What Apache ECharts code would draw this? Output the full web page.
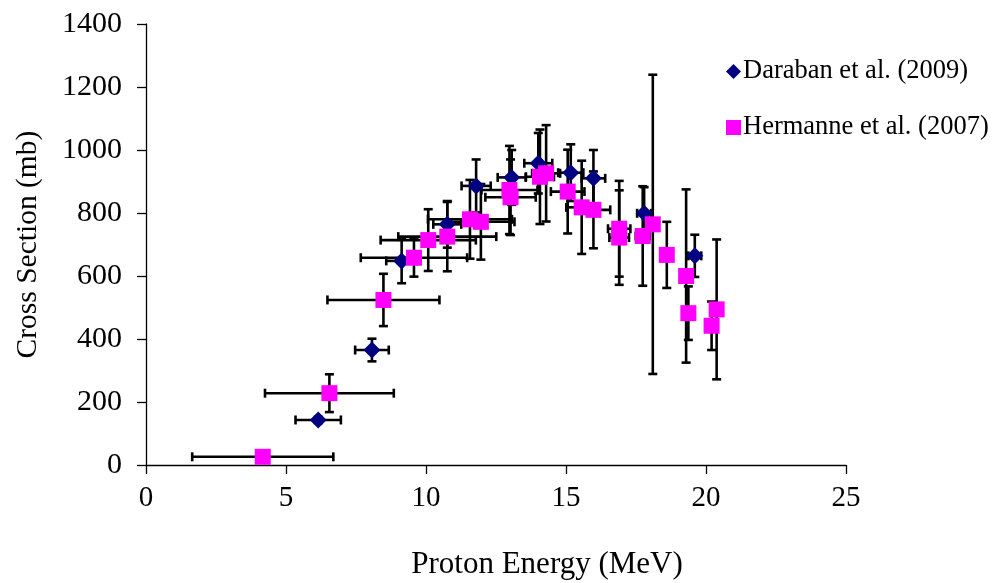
<!DOCTYPE html>
<html><head><meta charset="utf-8">
<script src="https://cdn.jsdelivr.net/npm/echarts@6/dist/echarts.min.js"></script>
<style>html,body{margin:0;padding:0;background:#fff}#c{width:997px;height:583px}</style>
</head><body><div id="c"></div>
<script>
// Daraban et al. (2009)
const darX    = [6.15, 8.07, 9.13, 10.76, 11.79, 13.06, 14.01, 15.17, 15.98, 17.79, 19.6];
const darY    = [143, 365, 648, 764, 886, 913, 958, 928, 910, 799, 664];
const darXErr = [0.81, 0.6, 0.55, 0.5, 0.52, 0.5, 0.5, 0.45, 0.42, 0.25, 0.23];
const darYErr = [10, 36, 71, 74, 84, 87, 96, 90, 90, 83, 67];
// Hermanne et al. (2007)
const herX    = [4.17, 6.55, 8.48, 9.57, 10.08, 10.76, 11.57, 11.96, 12.98, 13.02, 14.07, 14.29, 15.06, 15.56, 15.98, 16.9, 16.9, 17.74, 18.1, 18.6, 19.29, 19.37, 20.2, 20.38];
const herY    = [26, 228, 524, 658, 714, 725, 780, 772, 873, 850, 915, 926, 868, 818, 810, 750, 722, 727, 764, 667, 600, 482, 442, 494];
const herXErr = [2.52, 2.3, 2.0, 1.9, 1.7, 1.75, 1.5, 1.2, 1.0, 0.9, 0.5, 0.5, 0.6, 0.55, 0.6, 0.4, 0.35, 0.25, 0.15, 0.2, 0.15, 0.2, 0.1, 0.1];
const herYErr = [0, 60, 83, 60, 98, 110, 125, 120, 140, 120, 150, 153, 133, 148, 122, 152, 150, 158, 475, 105, 275, 85, 77, 222];
const seriesNames = ['Daraban et al. (2009)', 'Hermanne et al. (2007)'];

const FONT = '"Liberation Serif","Times New Roman",serif';

function errData(xs, ys, xe, ye){
  return xs.map((x,i)=>[x, ys[i], x-xe[i], x+xe[i], ys[i]-ye[i], ys[i]+ye[i]]);
}
function renderErr(params, api){
  const x=api.value(0), y=api.value(1);
  const p0=api.coord([api.value(2), y]), p1=api.coord([api.value(3), y]);
  const q0=api.coord([x, api.value(4)]), q1=api.coord([x, api.value(5)]);
  const c=4.5, st={stroke:'#000', lineWidth:2.6};
  const ch=[];
  if (Math.abs(p1[0]-p0[0])>1){
    ch.push({type:'line', shape:{x1:p0[0],y1:p0[1],x2:p1[0],y2:p1[1]}, style:st});
    ch.push({type:'line', shape:{x1:p0[0],y1:p0[1]-c,x2:p0[0],y2:p0[1]+c}, style:st});
    ch.push({type:'line', shape:{x1:p1[0],y1:p1[1]-c,x2:p1[0],y2:p1[1]+c}, style:st});
  }
  if (Math.abs(q1[1]-q0[1])>1){
    ch.push({type:'line', shape:{x1:q0[0],y1:q0[1],x2:q1[0],y2:q1[1]}, style:st});
    ch.push({type:'line', shape:{x1:q0[0]-c,y1:q0[1],x2:q0[0]+c,y2:q0[1]}, style:st});
    ch.push({type:'line', shape:{x1:q1[0]-c,y1:q1[1],x2:q1[0]+c,y2:q1[1]}, style:st});
  }
  return {type:'group', children:ch};
}

const chart = echarts.init(document.getElementById('c'), null, {renderer:'canvas'});
chart.setOption({
  animation:false,
  backgroundColor:'#fff',
  grid:{left:146, right:151, top:24, bottom:118, containLabel:false, outerBoundsMode:'none'},
  legend:{
    data:[{name:seriesNames[0], icon:'diamond', itemStyle:{opacity:1}},{name:seriesNames[1], icon:'rect', itemStyle:{opacity:1}}],
    orient:'vertical', left:721, top:53, itemGap:29, itemWidth:15, itemHeight:15,
    textStyle:{fontFamily:FONT, fontSize:26.5, color:'#000', padding:[0,0,0,-3]}
  },
  xAxis:{
    type:'value', min:0, max:25, interval:5,
    name:'Proton Energy (MeV)', nameLocation:'middle', nameGap:84,
    nameTextStyle:{fontFamily:FONT, fontSize:31, color:'#000', padding:[0,0,0,102]},
    axisLine:{lineStyle:{color:'#000', width:1.3}},
    axisTick:{inside:false, length:9, lineStyle:{color:'#000', width:1.3}},
    axisLabel:{fontFamily:FONT, fontSize:29, color:'#000', margin:19, formatter:v=>String(v)},
    splitLine:{show:false}
  },
  yAxis:{
    type:'value', min:0, max:1400, interval:200,
    name:'Cross Section (mb)', nameLocation:'middle', nameGap:103, nameRotate:90,
    nameTextStyle:{fontFamily:FONT, fontSize:29.5, color:'#000'},
    axisLine:{show:true, lineStyle:{color:'#000', width:1.3}},
    axisTick:{show:true, inside:false, length:9, lineStyle:{color:'#000', width:1.3}},
    axisLabel:{fontFamily:FONT, fontSize:30, color:'#000', margin:24, formatter:v=>String(v)},
    splitLine:{show:false}
  },
  series:[
    {type:'custom', name:'errD', renderItem:renderErr, data:errData(darX,darY,darXErr,darYErr), encode:{x:0,y:1}, z:1, silent:true},
    {type:'custom', name:'errH', renderItem:renderErr, data:errData(herX,herY,herXErr,herYErr), encode:{x:0,y:1}, z:1, silent:true},
    {type:'scatter', name:seriesNames[0], symbol:'diamond', symbolSize:17, itemStyle:{color:'#000080', opacity:1}, data:darX.map((x,i)=>[x,darY[i]]), z:3},
    {type:'scatter', name:seriesNames[1], symbol:'rect', symbolSize:16, itemStyle:{color:'#FF00FF', opacity:1}, data:herX.map((x,i)=>[x,herY[i]]), z:4}
  ]
});
</script></body></html>
